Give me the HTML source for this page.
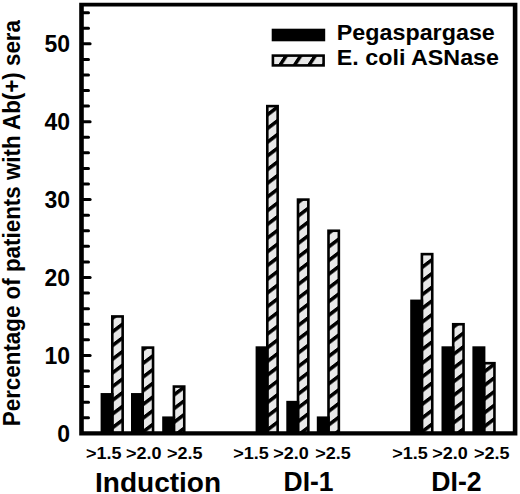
<!DOCTYPE html>
<html><head><meta charset="utf-8"><style>
html,body{margin:0;padding:0;background:#fff;}
body{width:520px;height:494px;overflow:hidden;}
svg{display:block;}
text{font-family:"Liberation Sans",sans-serif;font-weight:bold;fill:#000;}
.t{font-size:23px;}
.lg{font-size:22px;}
.sm{font-size:16.5px;}
.gp{font-size:27px;}
</style></head><body>
<svg width="520" height="494" viewBox="0 0 520 494">
<defs>
<pattern id="p0" patternUnits="userSpaceOnUse" width="20" height="13.7" patternTransform="translate(113.1,329.1) skewY(-37.23)"><rect width="20" height="13.7" fill="#e8e8e8"/><rect width="20" height="4.5" fill="#000"/></pattern>
<pattern id="p1" patternUnits="userSpaceOnUse" width="20" height="13.7" patternTransform="translate(144.1,360.3) skewY(-37.23)"><rect width="20" height="13.7" fill="#e8e8e8"/><rect width="20" height="4.5" fill="#000"/></pattern>
<pattern id="p2" patternUnits="userSpaceOnUse" width="20" height="13.7" patternTransform="translate(175.0,391.9) skewY(-37.23)"><rect width="20" height="13.7" fill="#e8e8e8"/><rect width="20" height="4.5" fill="#000"/></pattern>
<pattern id="p3" patternUnits="userSpaceOnUse" width="20" height="13.7" patternTransform="translate(268.0,125.8) skewY(-37.23)"><rect width="20" height="13.7" fill="#e8e8e8"/><rect width="20" height="4.5" fill="#000"/></pattern>
<pattern id="p4" patternUnits="userSpaceOnUse" width="20" height="13.7" patternTransform="translate(299.0,213.1) skewY(-37.23)"><rect width="20" height="13.7" fill="#e8e8e8"/><rect width="20" height="4.5" fill="#000"/></pattern>
<pattern id="p5" patternUnits="userSpaceOnUse" width="20" height="13.7" patternTransform="translate(329.7,243.8) skewY(-37.23)"><rect width="20" height="13.7" fill="#e8e8e8"/><rect width="20" height="4.5" fill="#000"/></pattern>
<pattern id="p6" patternUnits="userSpaceOnUse" width="20" height="13.7" patternTransform="translate(423.4,264.1) skewY(-37.23)"><rect width="20" height="13.7" fill="#e8e8e8"/><rect width="20" height="4.5" fill="#000"/></pattern>
<pattern id="p7" patternUnits="userSpaceOnUse" width="20" height="13.7" patternTransform="translate(454.7,337.5) skewY(-37.23)"><rect width="20" height="13.7" fill="#e8e8e8"/><rect width="20" height="4.5" fill="#000"/></pattern>
<pattern id="p8" patternUnits="userSpaceOnUse" width="20" height="13.7" patternTransform="translate(485.8,368.4) skewY(-37.23)"><rect width="20" height="13.7" fill="#e8e8e8"/><rect width="20" height="4.5" fill="#000"/></pattern>
<pattern id="hl" patternUnits="userSpaceOnUse" width="14.5" height="20" patternTransform="translate(278.7,64) skewX(-33.42)"><rect width="14.5" height="20" fill="#e8e8e8"/><rect width="4.2" height="20" fill="#000"/></pattern>
</defs>
<rect width="520" height="494" fill="#fff"/>
<rect x="112.30" y="316.45" width="10.35" height="116.55" fill="url(#p0)" stroke="#000" stroke-width="2.6"/>
<rect x="100.60" y="393.05" width="13.00" height="39.95" fill="#000"/>
<rect x="142.70" y="347.61" width="10.35" height="85.39" fill="url(#p1)" stroke="#000" stroke-width="2.6"/>
<rect x="131.00" y="393.05" width="13.00" height="39.95" fill="#000"/>
<rect x="173.90" y="386.56" width="10.35" height="46.44" fill="url(#p2)" stroke="#000" stroke-width="2.6"/>
<rect x="162.20" y="416.42" width="13.00" height="16.58" fill="#000"/>
<rect x="267.30" y="106.12" width="10.35" height="326.88" fill="url(#p3)" stroke="#000" stroke-width="2.6"/>
<rect x="255.60" y="346.31" width="13.00" height="86.69" fill="#000"/>
<rect x="298.00" y="199.60" width="10.35" height="233.40" fill="url(#p4)" stroke="#000" stroke-width="2.6"/>
<rect x="286.30" y="400.84" width="13.00" height="32.16" fill="#000"/>
<rect x="328.50" y="230.76" width="10.35" height="202.24" fill="url(#p5)" stroke="#000" stroke-width="2.6"/>
<rect x="316.80" y="416.42" width="13.00" height="16.58" fill="#000"/>
<rect x="421.90" y="254.13" width="10.35" height="178.87" fill="url(#p6)" stroke="#000" stroke-width="2.6"/>
<rect x="410.20" y="299.57" width="13.00" height="133.43" fill="#000"/>
<rect x="453.20" y="324.24" width="10.35" height="108.76" fill="url(#p7)" stroke="#000" stroke-width="2.6"/>
<rect x="441.50" y="346.31" width="13.00" height="86.69" fill="#000"/>
<rect x="484.10" y="363.19" width="10.35" height="69.81" fill="url(#p8)" stroke="#000" stroke-width="2.6"/>
<rect x="472.40" y="346.31" width="13.00" height="86.69" fill="#000"/>
<line x1="82" y1="417.72" x2="88.5" y2="417.72" stroke="#000" stroke-width="3" stroke-linecap="round"/>
<line x1="82" y1="402.14" x2="88.5" y2="402.14" stroke="#000" stroke-width="3" stroke-linecap="round"/>
<line x1="82" y1="386.56" x2="88.5" y2="386.56" stroke="#000" stroke-width="3" stroke-linecap="round"/>
<line x1="82" y1="370.98" x2="88.5" y2="370.98" stroke="#000" stroke-width="3" stroke-linecap="round"/>
<line x1="82" y1="355.40" x2="90.1" y2="355.40" stroke="#000" stroke-width="3" stroke-linecap="round"/>
<line x1="82" y1="339.82" x2="88.5" y2="339.82" stroke="#000" stroke-width="3" stroke-linecap="round"/>
<line x1="82" y1="324.24" x2="88.5" y2="324.24" stroke="#000" stroke-width="3" stroke-linecap="round"/>
<line x1="82" y1="308.66" x2="88.5" y2="308.66" stroke="#000" stroke-width="3" stroke-linecap="round"/>
<line x1="82" y1="293.08" x2="88.5" y2="293.08" stroke="#000" stroke-width="3" stroke-linecap="round"/>
<line x1="82" y1="277.50" x2="90.1" y2="277.50" stroke="#000" stroke-width="3" stroke-linecap="round"/>
<line x1="82" y1="261.92" x2="88.5" y2="261.92" stroke="#000" stroke-width="3" stroke-linecap="round"/>
<line x1="82" y1="246.34" x2="88.5" y2="246.34" stroke="#000" stroke-width="3" stroke-linecap="round"/>
<line x1="82" y1="230.76" x2="88.5" y2="230.76" stroke="#000" stroke-width="3" stroke-linecap="round"/>
<line x1="82" y1="215.18" x2="88.5" y2="215.18" stroke="#000" stroke-width="3" stroke-linecap="round"/>
<line x1="82" y1="199.60" x2="90.1" y2="199.60" stroke="#000" stroke-width="3" stroke-linecap="round"/>
<line x1="82" y1="184.02" x2="88.5" y2="184.02" stroke="#000" stroke-width="3" stroke-linecap="round"/>
<line x1="82" y1="168.44" x2="88.5" y2="168.44" stroke="#000" stroke-width="3" stroke-linecap="round"/>
<line x1="82" y1="152.86" x2="88.5" y2="152.86" stroke="#000" stroke-width="3" stroke-linecap="round"/>
<line x1="82" y1="137.28" x2="88.5" y2="137.28" stroke="#000" stroke-width="3" stroke-linecap="round"/>
<line x1="82" y1="121.70" x2="90.1" y2="121.70" stroke="#000" stroke-width="3" stroke-linecap="round"/>
<line x1="82" y1="106.12" x2="88.5" y2="106.12" stroke="#000" stroke-width="3" stroke-linecap="round"/>
<line x1="82" y1="90.54" x2="88.5" y2="90.54" stroke="#000" stroke-width="3" stroke-linecap="round"/>
<line x1="82" y1="74.96" x2="88.5" y2="74.96" stroke="#000" stroke-width="3" stroke-linecap="round"/>
<line x1="82" y1="59.38" x2="88.5" y2="59.38" stroke="#000" stroke-width="3" stroke-linecap="round"/>
<line x1="82" y1="43.80" x2="90.1" y2="43.80" stroke="#000" stroke-width="3" stroke-linecap="round"/>
<line x1="82" y1="28.22" x2="88.5" y2="28.22" stroke="#000" stroke-width="3" stroke-linecap="round"/>
<line x1="82" y1="12.64" x2="88.5" y2="12.64" stroke="#000" stroke-width="3" stroke-linecap="round"/>
<text x="70" y="441.70" text-anchor="end" class="t">0</text>
<text x="70" y="363.80" text-anchor="end" class="t">10</text>
<text x="70" y="285.90" text-anchor="end" class="t">20</text>
<text x="70" y="208.00" text-anchor="end" class="t">30</text>
<text x="70" y="130.10" text-anchor="end" class="t">40</text>
<text x="70" y="52.20" text-anchor="end" class="t">50</text>
<path d="M79.2,2.7 H517.4 V435.4 H79.2 Z M83.8,6.5 V431.2 H512.8 V6.5 Z" fill="#000" fill-rule="evenodd"/>
<rect x="271.7" y="28.7" width="53.5" height="12.6" fill="#000"/>
<rect x="272.9" y="55.6" width="50.7" height="9.8" fill="url(#hl)" stroke="#000" stroke-width="2.6"/>
<text x="336.8" y="39.9" class="lg" textLength="158" lengthAdjust="spacingAndGlyphs">Pegaspargase</text>
<text x="336.8" y="65.2" class="lg" textLength="162.2" lengthAdjust="spacingAndGlyphs">E. coli ASNase</text>
<text x="86" y="459" class="sm" textLength="35.5" lengthAdjust="spacingAndGlyphs">&gt;1.5</text>
<text x="126" y="459" class="sm" textLength="35.5" lengthAdjust="spacingAndGlyphs">&gt;2.0</text>
<text x="167" y="459" class="sm" textLength="35.5" lengthAdjust="spacingAndGlyphs">&gt;2.5</text>
<text x="233.3" y="459" class="sm" textLength="35.5" lengthAdjust="spacingAndGlyphs">&gt;1.5</text>
<text x="273.3" y="459" class="sm" textLength="35.5" lengthAdjust="spacingAndGlyphs">&gt;2.0</text>
<text x="315.3" y="459" class="sm" textLength="35.5" lengthAdjust="spacingAndGlyphs">&gt;2.5</text>
<text x="392.3" y="459" class="sm" textLength="35.5" lengthAdjust="spacingAndGlyphs">&gt;1.5</text>
<text x="432.3" y="459" class="sm" textLength="35.5" lengthAdjust="spacingAndGlyphs">&gt;2.0</text>
<text x="474" y="459" class="sm" textLength="35.5" lengthAdjust="spacingAndGlyphs">&gt;2.5</text>
<text x="95" y="491.6" class="gp" textLength="126.1" lengthAdjust="spacingAndGlyphs">Induction</text>
<text x="283.6" y="491" class="gp" textLength="50" lengthAdjust="spacingAndGlyphs">DI-1</text>
<text x="431.3" y="491" class="gp" textLength="50.3" lengthAdjust="spacingAndGlyphs">DI-2</text>
<text transform="translate(19.9,426.2) rotate(-90)" x="0" y="0" class="t" textLength="406.2" lengthAdjust="spacingAndGlyphs">Percentage of patients with Ab(+) sera</text>
</svg>
</body></html>
